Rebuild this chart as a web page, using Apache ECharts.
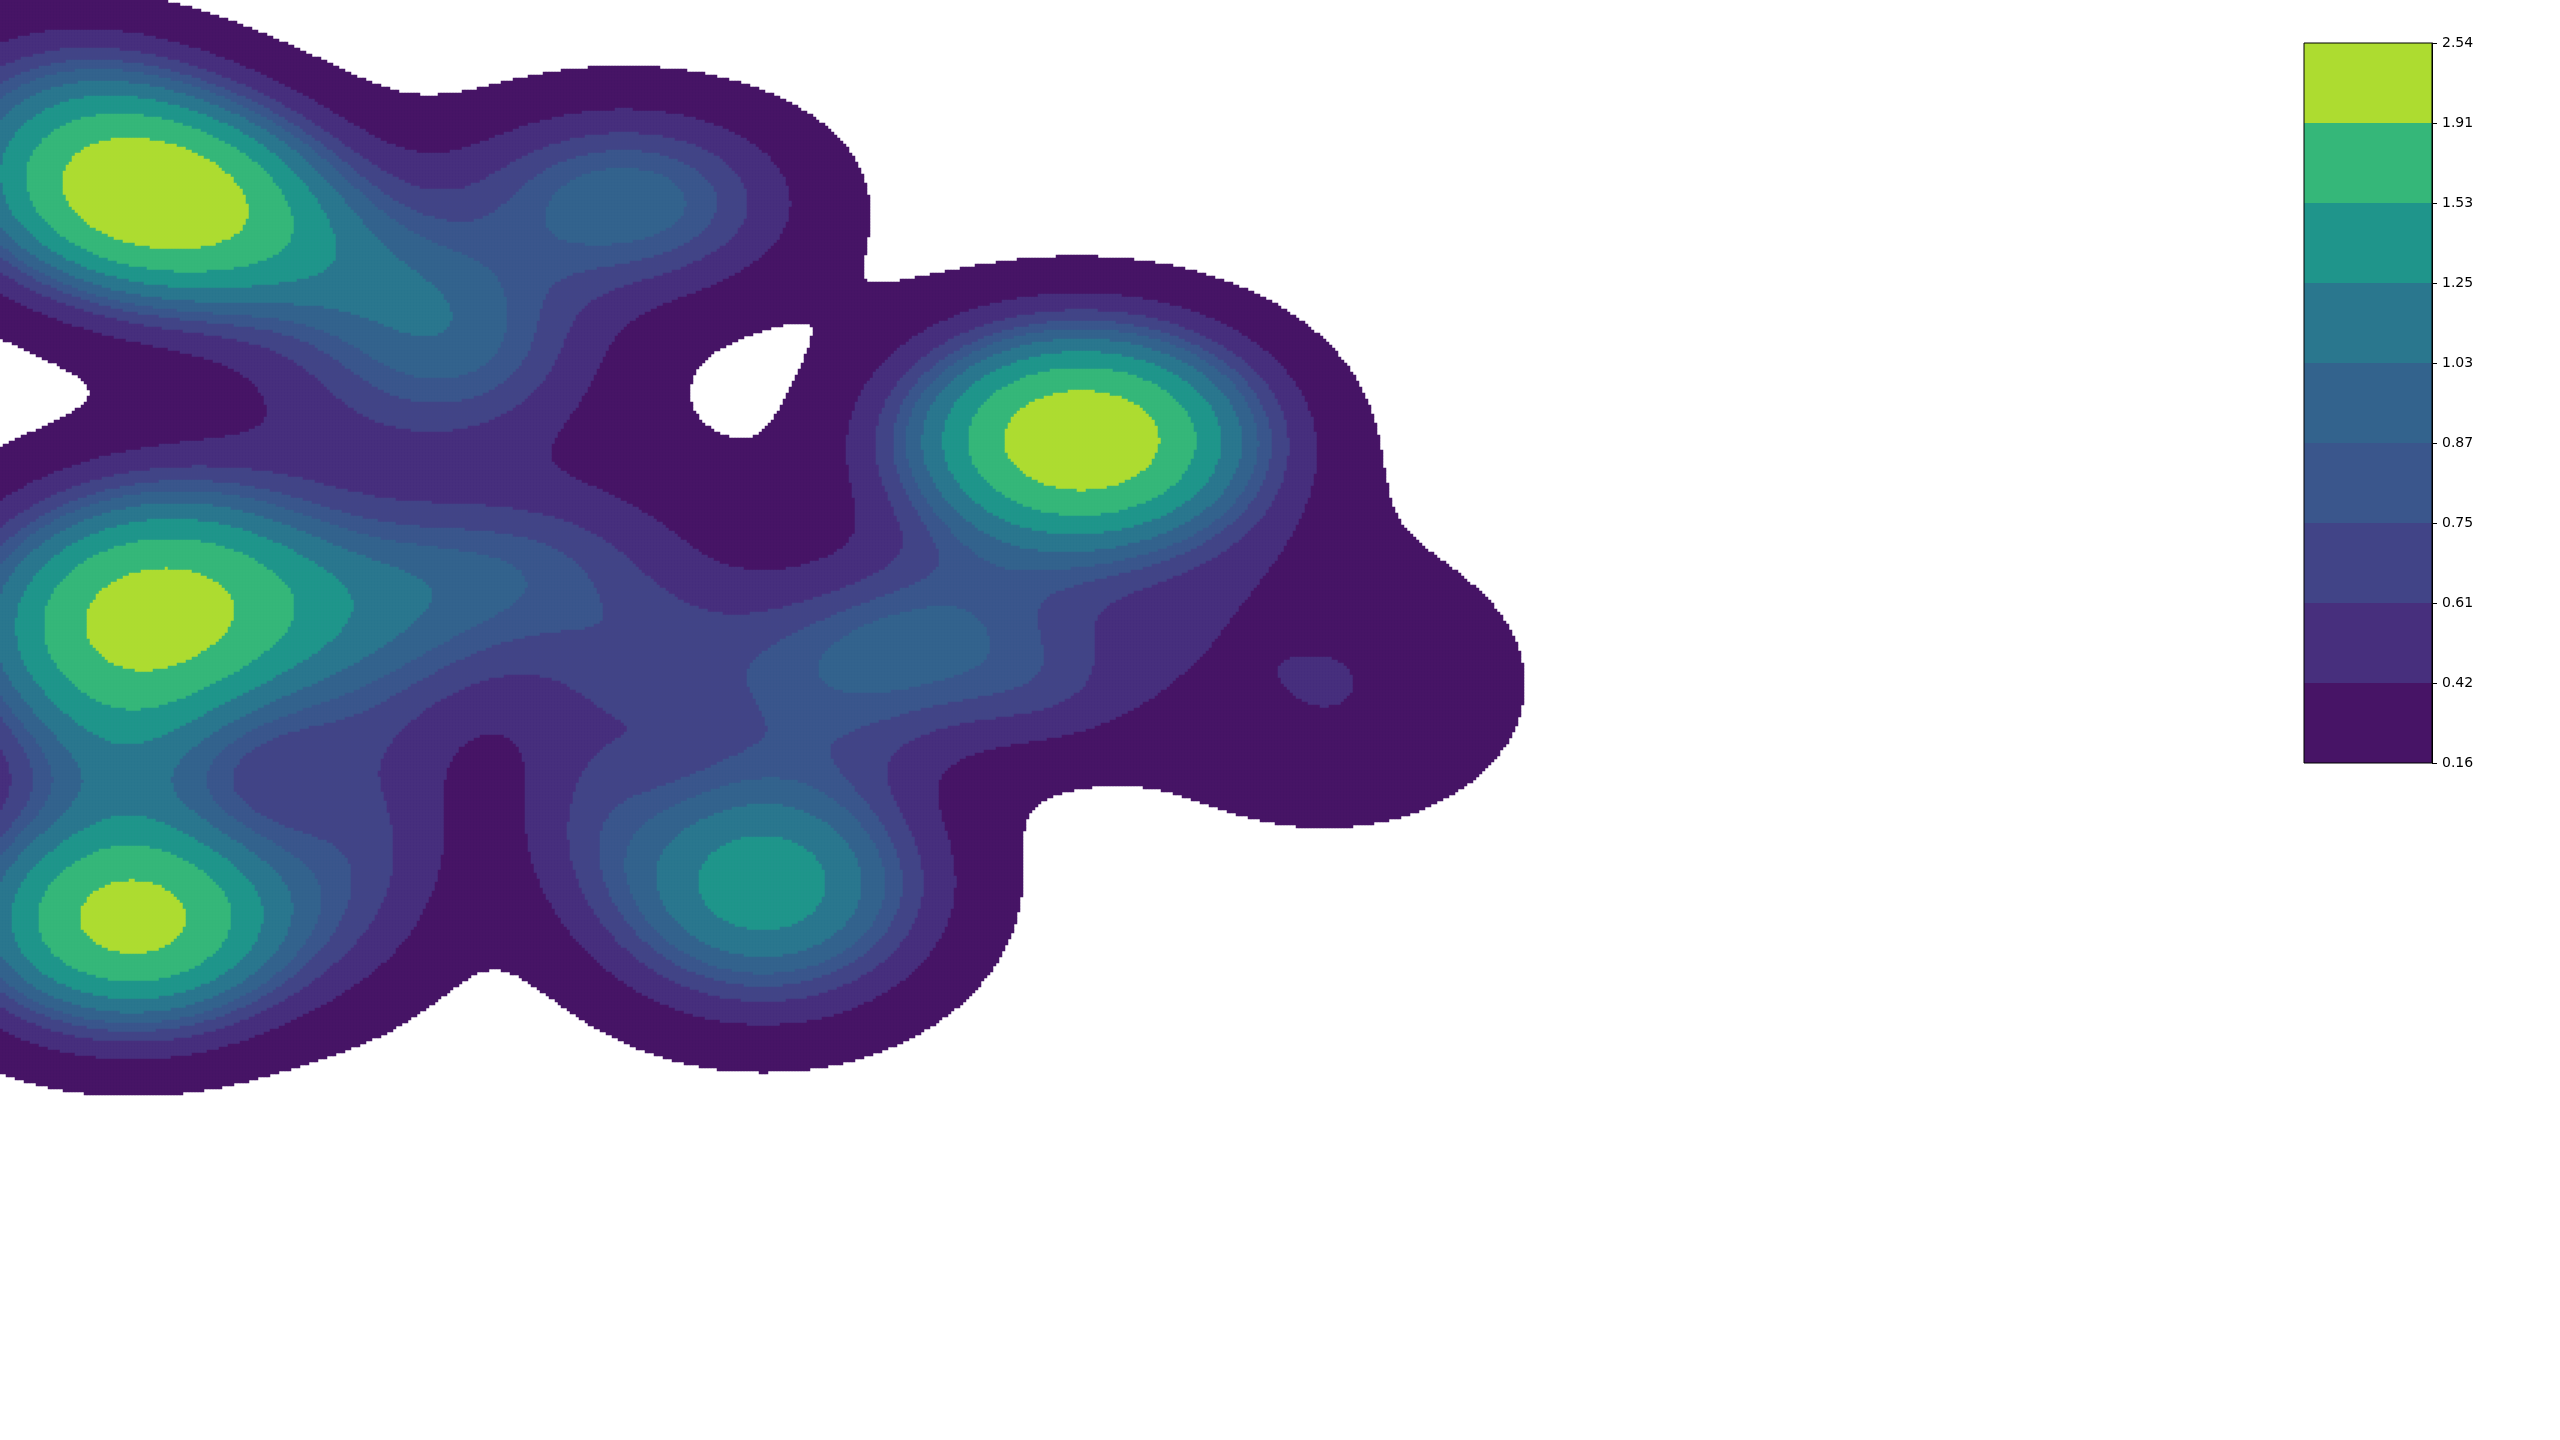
<!DOCTYPE html>
<html><head><meta charset="utf-8">
<script src="https://cdn.jsdelivr.net/npm/echarts@6/dist/echarts.min.js"></script>
<style>html,body{margin:0;padding:0;background:#fff;}#chart{width:2560px;height:1440px;}</style>
</head><body><div id="chart"></div>
<script>
// Filled-contour levels (colorbar tick labels) and band colours (viridis)
const levels = [0.16, 0.42, 0.61, 0.75, 0.87, 1.03, 1.25, 1.53, 1.91, 2.54];
const bandColors = ['#471466', '#472f7d', '#414487', '#3a568c', '#33638d', '#2a778e', '#1f958b', '#35b779', '#addc30'];

// Density components (data units)
const compX   = [92,    662.5, 92,   81.2, 467.7, 383,  555,  440,  640,  540,  562,  812,  814,   250,  265,  295,  75,   230,  355,  40,   295,  390,  420];
const compY   = [119.5, 269,   376,  564,  542,   124,  395,  420,  425,  440,  385,  419,  420,   180,  235,  355,  466,  500,  480,  45,   425,  395,  280];
const compAmp = [2.35,  2.30,  2.10, 2.08, 1.42,  0.97, 0.60, 0.25, 0.25, 0.12, 0.20, 0.40, 0.035, 0.55, 0.60, 0.80, 0.35, 0.50, 0.30, 0.25, 0.12, 0.15, 0.04];
const compSx  = [80,    76.5,  80,   73,   75,    78,   95,   70,   45,   50,   50,   90,   13,    70,   75,   90,   45,   45,   35,   60,   40,   40,   40];
const compSy  = [47,    48.5,  55,   47.5, 55,    44,   42,   40,   30,   30,   30,   65,   11,    35,   40,   42,   40,   70,   50,   35,   30,   30,   30];
const compRot = [8,     0,     -8,   0,    0,     0,    0,    0,    0,    0,    -14,  0,    0,     15,   0,    -10,  0,    0,    0,    0,    0,    0,    0];

const cellPx = 3, cols = 522, rows = 380;
const unitPerCell = cellPx * 1568 / 2560;

function density(x, y) {
  let v = 0;
  for (let k = 0; k < compX.length; k++) {
    const dx = x - compX[k], dy = y - compY[k];
    const t = compRot[k] * Math.PI / 180, c = Math.cos(t), s = Math.sin(t);
    const u = (dx * c + dy * s) / compSx[k], w = (-dx * s + dy * c) / compSy[k];
    v += compAmp[k] * Math.exp(-0.5 * (u * u + w * w));
  }
  return v;
}

const xCats = [], yCats = [];
for (let i = 0; i < cols; i++) xCats.push(((i + 0.5) * unitPerCell).toFixed(2));
for (let j = 0; j < rows; j++) yCats.push(((j + 0.5) * unitPerCell).toFixed(2));
const cells = [];
for (let i = 0; i < cols; i++) {
  for (let j = 0; j < rows; j++) {
    const v = density(+xCats[i], +yCats[j]);
    if (v >= levels[0]) cells.push([i, j, v]);
  }
}

const pieces = bandColors.map((c, i) => i === bandColors.length - 1
  ? { gte: levels[i], color: c }
  : { gte: levels[i], lt: levels[i + 1], color: c });

const cbSeries = bandColors.map((c, i) => ({
  type: 'bar', xAxisIndex: 1, yAxisIndex: 1, stack: 'cb', data: [1], barWidth: '100%',
  itemStyle: { color: c }, silent: true, animation: false
}));

const chart = echarts.init(document.getElementById('chart'), null, { renderer: 'canvas' });
chart.setOption({
  animation: false,
  backgroundColor: '#ffffff',
  grid: [
    { left: 0, top: 0, width: cols * cellPx, height: rows * cellPx, show: false },
    { left: 2304, top: 43, width: 128, height: 720, show: true, borderColor: '#000', borderWidth: 1, backgroundColor: 'transparent', z: 5 }
  ],
  xAxis: [
    { type: 'category', data: xCats, gridIndex: 0, show: false },
    { type: 'category', data: ['cb'], gridIndex: 1, show: false }
  ],
  yAxis: [
    { type: 'category', data: yCats, gridIndex: 0, inverse: true, show: false },
    { type: 'value', gridIndex: 1, min: 0, max: 9, interval: 1, position: 'right',
      axisLine: { show: true, lineStyle: { color: '#000', width: 1 } },
      axisTick: { show: true, length: 5, lineStyle: { color: '#000', width: 1 } },
      splitLine: { show: false },
      axisLabel: { show: true, margin: 10, color: '#000', fontSize: 14, fontFamily: 'DejaVu Sans',
        formatter: v => levels[Math.round(v)].toFixed(2) } }
  ],
  visualMap: { type: 'piecewise', show: false, dimension: 2, seriesIndex: 0, pieces: pieces },
  series: [
    { type: 'heatmap', xAxisIndex: 0, yAxisIndex: 0, data: cells, progressive: 0,
      emphasis: { disabled: true }, itemStyle: { borderWidth: 0 }, silent: true }
  ].concat(cbSeries)
});
</script></body></html>
